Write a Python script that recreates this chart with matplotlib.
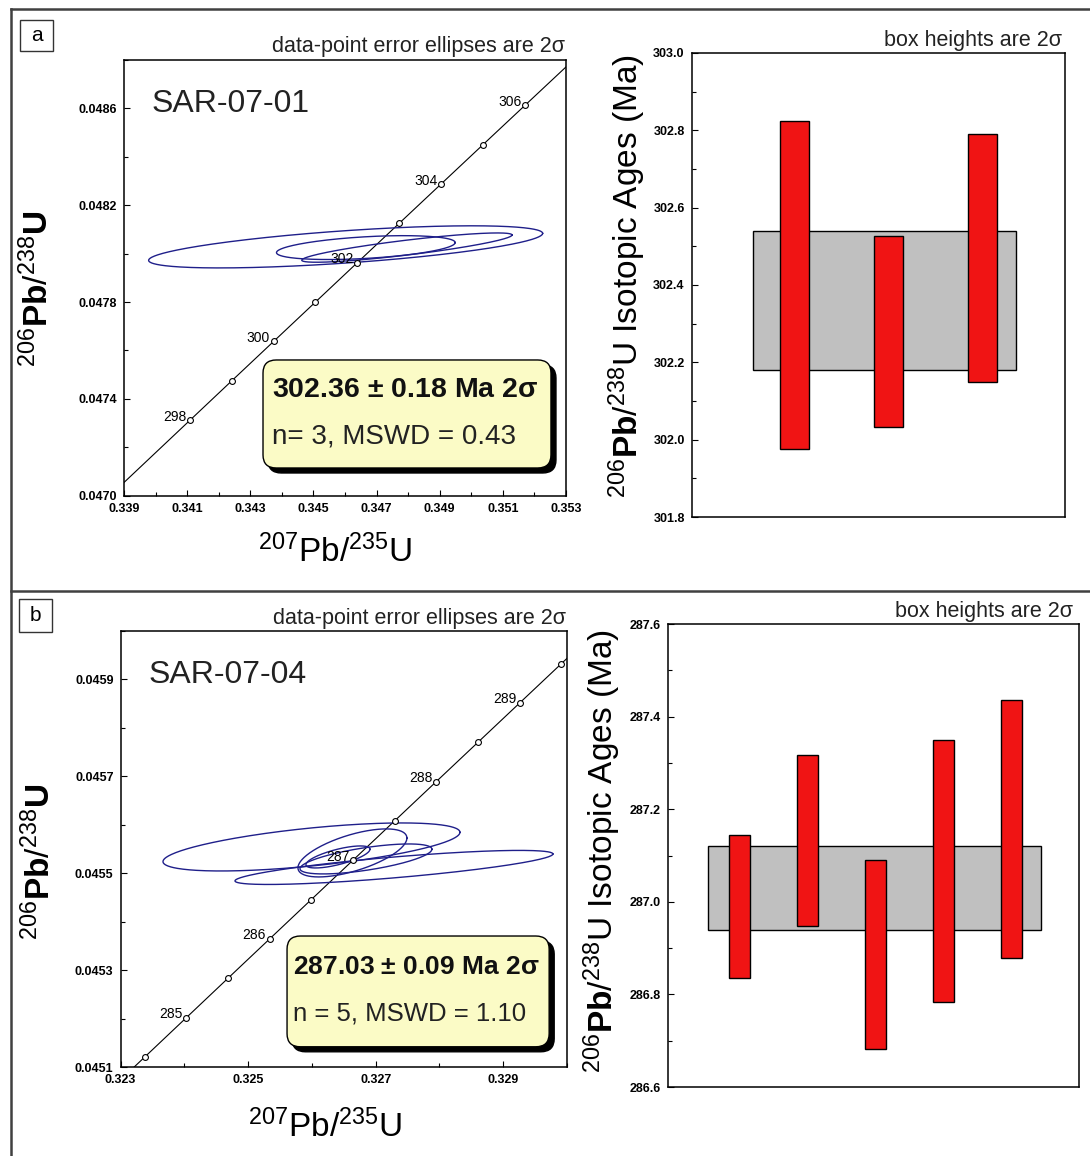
import numpy as np
import matplotlib.pyplot as plt
from matplotlib.patches import Rectangle, FancyBboxPatch
from matplotlib.lines import Line2D
from matplotlib.ticker import FormatStrFormatter, MultipleLocator

plt.rcParams['font.family'] = ['Liberation Sans', 'DejaVu Sans']
plt.rcParams['mathtext.fontset'] = 'custom'
plt.rcParams['mathtext.rm'] = 'Liberation Sans'
plt.rcParams['mathtext.bf'] = 'Liberation Sans:bold'
plt.rcParams['mathtext.it'] = 'Liberation Sans:italic'

# decay constants (1/yr)
L238 = 1.55125e-10
L235 = 9.8485e-10

# ---- sample SAR-07-01 (panel a) ----
a_x = [0.34602, 0.34666, 0.34796]          # 207Pb/235U
a_xerr = [0.00624, 0.00283, 0.00333]       # 2 sigma
a_y = [0.048028, 0.048025, 0.048025]       # 206Pb/238U
a_yerr = [0.0000870, 0.0000493, 0.0000605]
a_rho = [0.64, 0.42, 0.86]
a_ages = [302.40, 302.28, 302.47]          # 206Pb/238U ages (Ma)
a_age_err = [0.425, 0.247, 0.32]
a_mean, a_mean_err = 302.36, 0.18
a_marks = [298, 299, 300, 301, 302, 303, 304, 305, 306]
a_mark_labels = [298, 300, 302, 304, 306]
a_xticks = [0.339, 0.341, 0.343, 0.345, 0.347, 0.349, 0.351, 0.353]
a_xminor = [0.340, 0.342, 0.344, 0.346, 0.348, 0.350, 0.352]
a_yticks = [0.0470, 0.0474, 0.0478, 0.0482, 0.0486]
a_yminor = [0.0472, 0.0476, 0.0480, 0.0484, 0.0488]

# ---- sample SAR-07-04 (panel b) ----
b_x = [0.325994, 0.326636, 0.327287, 0.326848, 0.326409]
b_xerr = [0.002328, 0.000854, 0.002492, 0.001034, 0.000502]
b_y = [0.0455542, 0.0455419, 0.0455120, 0.0455295, 0.0455336]
b_yerr = [0.0000495, 0.0000495, 0.0000351, 0.0000309, 0.0000227]
b_rho = [0.61, 0.62, 0.79, 0.65, 0.70]
b_ages = [286.99, 287.133, 286.886, 287.067, 287.157]
b_age_err = [0.154, 0.185, 0.204, 0.283, 0.279]
b_mean, b_mean_err = 287.03, 0.09
b_marks = [284.5, 285, 285.5, 286, 286.5, 287, 287.5, 288, 288.5, 289, 289.5]
b_mark_labels = [285, 286, 287, 288, 289]
b_xticks = [0.323, 0.325, 0.327, 0.329]
b_xminor = [0.324, 0.326, 0.328, 0.330]
b_yticks = [0.0451, 0.0453, 0.0455, 0.0457, 0.0459]
b_yminor = [0.0452, 0.0454, 0.0456, 0.0458, 0.0460]

W, H = 1090, 1156
fig = plt.figure(figsize=(W / 100, H / 100), dpi=100)


def fx(x):
    return x / W


def fy(y):
    return 1 - y / H


def concordia(t_ma):
    t = np.asarray(t_ma) * 1e6
    return np.exp(L235 * t) - 1, np.exp(L238 * t) - 1


def style_ticks(ax, size, pad):
    ax.tick_params(which='both', direction='in', top=False, right=False,
                   labelsize=size, pad=pad)
    ax.tick_params(which='major', length=4, width=0.8)
    ax.tick_params(which='minor', length=3, width=0.8)
    for lab in ax.get_xticklabels() + ax.get_yticklabels():
        lab.set_fontweight('bold')
    for s in ax.spines.values():
        s.set_linewidth(1.1)


def conc_panel(ax, xs, xe, ys, ye, rho, marks, mark_labels, t_rng,
               xlim, ylim, xt, xm, yt, ym, sample, res1, res2, box, fsz):
    tt = np.linspace(t_rng[0], t_rng[1], 800)
    cx, cy = concordia(tt)
    ax.plot(cx, cy, color='black', lw=0.8, zorder=2)
    mx, my = concordia(marks)
    ax.plot(mx, my, 'o', ms=4.2, mfc='white', mec='black', mew=0.8, zorder=4)
    for m in mark_labels:
        px, py = concordia(m)
        ax.annotate(str(m), (px, py), xytext=(-2.5, 2.5), textcoords='offset points',
                    ha='right', va='center', fontsize=10, zorder=5)
    th = np.linspace(0, 2 * np.pi, 400)
    for x0, sx, y0, sy, r in zip(xs, xe, ys, ye, rho):
        ex = x0 + sx * np.cos(th)
        ey = y0 + sy * (r * np.cos(th) + np.sqrt(1 - r ** 2) * np.sin(th))
        ax.plot(ex, ey, color='#1f1f8a', lw=1.0, zorder=3)
    ax.set_xlim(*xlim)
    ax.set_ylim(*ylim)
    ax.set_xticks(xt)
    ax.set_xticks(xm, minor=True)
    ax.set_yticks(yt)
    ax.set_yticks(ym, minor=True)
    ax.xaxis.set_major_formatter(FormatStrFormatter('%.3f'))
    ax.yaxis.set_major_formatter(FormatStrFormatter('%.4f'))
    style_ticks(ax, 9, 5)
    ax.text(0.062, 0.88, sample, transform=ax.transAxes, fontsize=23,
            va='baseline', color='#222222')
    # result box with drop shadow
    x0, y0, x1, y1, tx, ty1, ty2 = box
    dx, dy = 5 / 442, 5 / 436
    ax.add_patch(FancyBboxPatch((x0 + dx, y0 - dy), x1 - x0, y1 - y0,
                                boxstyle='round,pad=0,rounding_size=0.03',
                                transform=ax.transAxes, fc='black', ec='black', zorder=6))
    ax.add_patch(FancyBboxPatch((x0, y0), x1 - x0, y1 - y0,
                                boxstyle='round,pad=0,rounding_size=0.03',
                                transform=ax.transAxes, fc='#fbfbc6', ec='black',
                                lw=1.0, zorder=7))
    ax.text(tx, ty1, res1, transform=ax.transAxes, fontsize=fsz,
            fontweight='bold', va='center', ha='left', zorder=8, color='#111111')
    ax.text(tx, ty2, res2, transform=ax.transAxes, fontsize=fsz - 0.5,
            va='center', ha='left', zorder=8, color='#222222')


def age_panel(ax, ages, errs, mean, merr, xlim, ylim, gx, gw):
    n = np.arange(1, len(ages) + 1)
    ax.bar(gx, 2 * merr, bottom=mean - merr, width=gw, color='#c0c0c0',
           edgecolor='black', lw=1.0, zorder=2)
    lo = np.array(ages) - np.array(errs)
    ax.bar(n, 2 * np.array(errs), bottom=lo, width=0.31, color='#f01414',
           edgecolor='black', lw=1.0, zorder=3)
    ax.set_xlim(*xlim)
    ax.set_ylim(*ylim)
    ax.set_xticks([])
    ax.yaxis.set_major_locator(MultipleLocator(0.2))
    ax.yaxis.set_minor_locator(MultipleLocator(0.1))
    ax.yaxis.set_major_formatter(FormatStrFormatter('%.1f'))
    style_ticks(ax, 9, 5)


# ---------- panel a ----------
ax1 = fig.add_axes([fx(124), fy(495.7), fx(442), 435.7 / H])
conc_panel(ax1, a_x, a_xerr, a_y, a_yerr, a_rho, a_marks, a_mark_labels,
           (296, 308), (0.339, 0.353), (0.0470, 0.0488),
           a_xticks, a_xminor, a_yticks, a_yminor,
           'SAR-07-01', r'302.36 ± 0.18 Ma $\mathregular{2σ}$', 'n= 3, MSWD = 0.43',
           (0.3145, 0.0636, 0.966, 0.3115, 0.334, 0.2426, 0.1354), 20.5)

ax2 = fig.add_axes([fx(691.7), fy(517.1), fx(373.3), 464.2 / H])
age_panel(ax2, a_ages, a_age_err, a_mean, a_mean_err, (-0.09, 3.88),
          (301.8, 303.0), 1.962, 2.796)

# ---------- panel b ----------
ax3 = fig.add_axes([fx(120.5), fy(1067.3), fx(446.5), 436.6 / H])
conc_panel(ax3, b_x, b_xerr, b_y, b_yerr, b_rho, b_marks, b_mark_labels,
           (283.5, 290.5), (0.323, 0.330), (0.0451, 0.0460),
           b_xticks, b_xminor, b_yticks, b_yminor,
           'SAR-07-04', r'287.03 ± 0.09 Ma $\mathregular{2σ}$', 'n = 5, MSWD = 1.10',
           (0.373, 0.047, 0.960, 0.3007, 0.3857, 0.2304, 0.1237), 19)

ax4 = fig.add_axes([fx(667.7), fy(1087), fx(411.3), 462.9 / H])
age_panel(ax4, b_ages, b_age_err, b_mean, b_mean_err, (-0.06, 6.0),
          (286.6, 287.6), 2.9855, 4.903)

# ---------- labels ----------
ylab = r'$^{206}\mathbf{Pb}/^{238}\mathbf{U}$'
xlab = r'$^{207}$Pb/$^{235}$U'
agelab = r'$^{206}\mathbf{Pb}/^{238}$U Isotopic Ages (Ma)'
for (x, y) in [(38, 288.5), (40, 861.5)]:
    fig.text(fx(x), fy(y), ylab, rotation=90, ha='center', va='center', fontsize=24)
for (x, y) in [(335, 551.7), (325, 1126.7)]:
    fig.text(fx(x), fy(y), xlab, ha='center', va='center', fontsize=24)
for (x, y) in [(627.5, 276), (602, 851)]:
    fig.text(fx(x), fy(y), agelab, rotation=90, ha='center', va='center', fontsize=24)

fig.text(fx(565), fy(52), 'data-point error ellipses are 2σ', ha='right',
         va='baseline', fontsize=15.5, color='#222222')
fig.text(fx(566), fy(624), 'data-point error ellipses are 2σ', ha='right',
         va='baseline', fontsize=15.5, color='#222222')
fig.text(fx(1062), fy(46), 'box heights are 2σ', ha='right', va='baseline',
         fontsize=15.5, color='#222222')
fig.text(fx(1073), fy(617), 'box heights are 2σ', ha='right', va='baseline',
         fontsize=15.5, color='#222222')

# panel letter boxes
for (x0, y0, x1, y1, s) in [(20, 20, 53, 51, 'a'), (19, 599, 52, 632, 'b')]:
    fig.add_artist(Rectangle((fx(x0), fy(y1)), fx(x1 - x0), (y1 - y0) / H,
                             transform=fig.transFigure, fill=False, ec='#333333', lw=1.0))
    fig.text(fx((x0 + x1) / 2), fy((y0 + y1) / 2), s, ha='center', va='center',
             fontsize=15)

# outer frame and divider
for xs_, ys_ in [((11, W), (9, 9)), ((11, 11), (9, H)), ((11, W), (590.5, 590.5))]:
    fig.add_artist(Line2D([fx(v) for v in xs_], [fy(v) for v in ys_],
                          transform=fig.transFigure, color='#404040', lw=1.8))

fig.savefig('out.png', dpi=100)
